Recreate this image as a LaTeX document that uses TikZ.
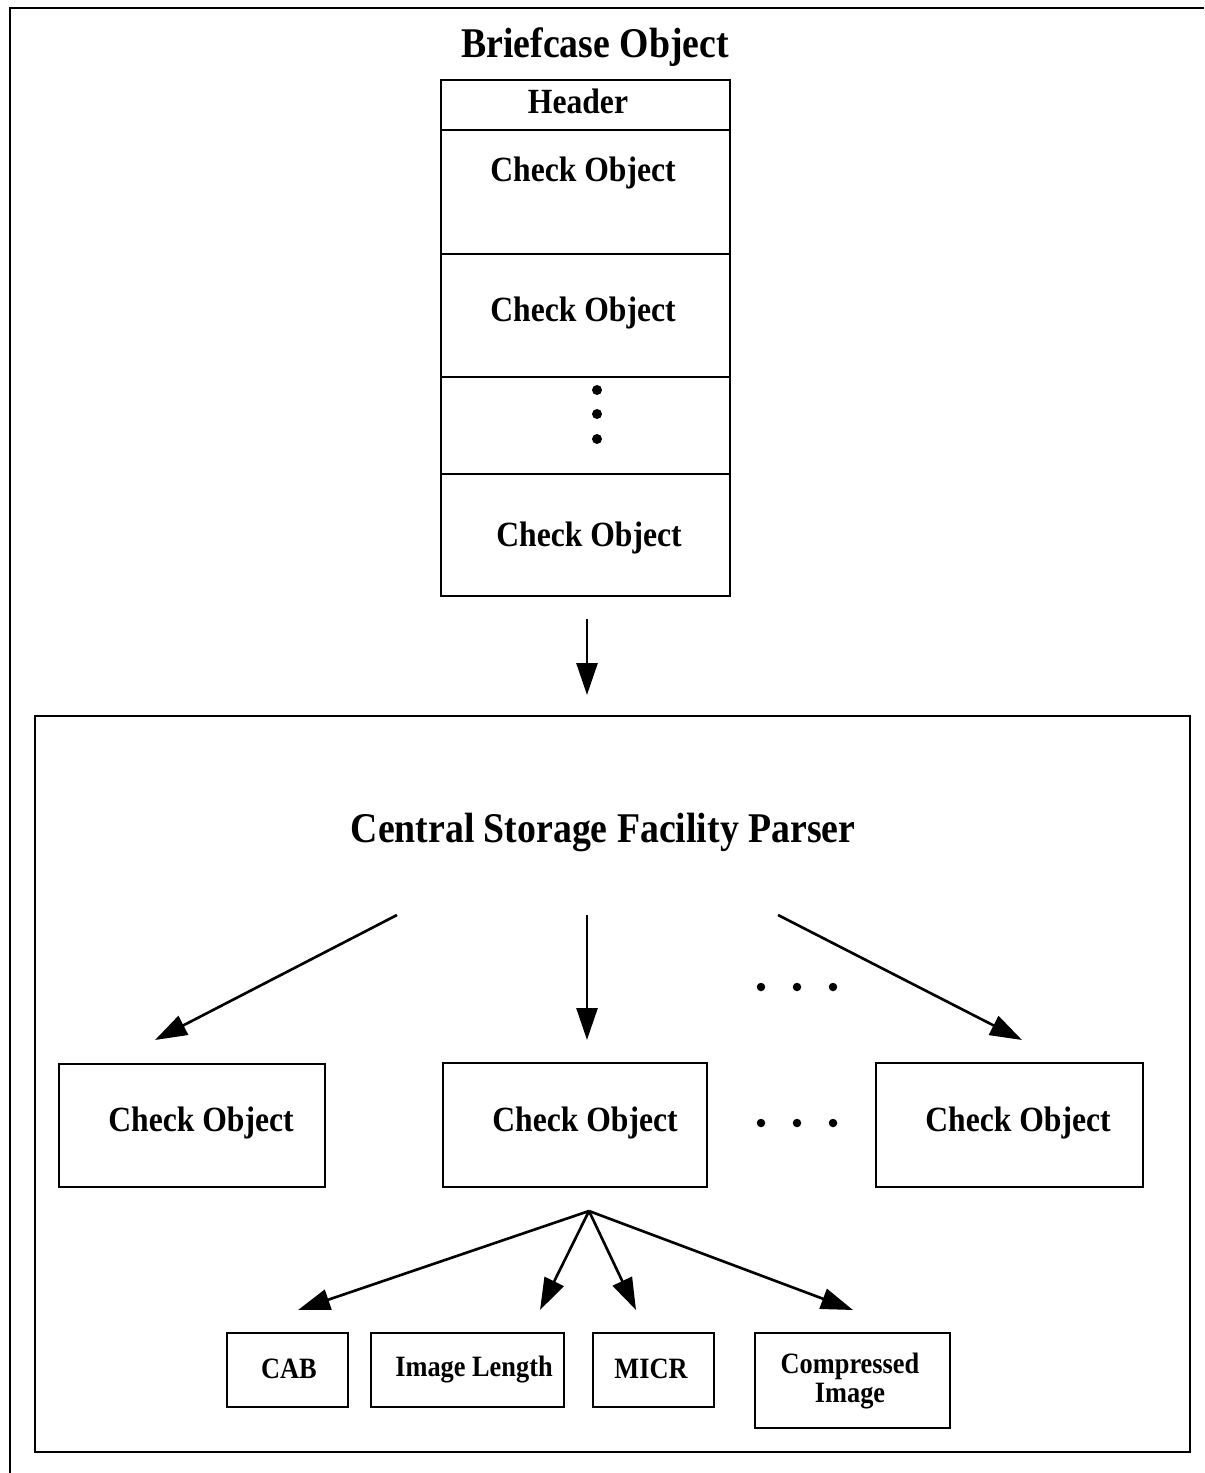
\documentclass[tikz,border=0pt]{standalone}
\usepackage{fontspec}
\usepackage{graphicx}
\setmainfont{Liberation Serif}
\usetikzlibrary{fit,arrows.meta}

% slightly taller lettering
\newcommand{\tallword}[1]{\scalebox{1}[1.12]{#1}}

\tikzset{
  frameline/.style={line width=1.3pt},
  cell/.style={draw, line width=1.25pt, inner sep=0pt, rectangle},
  bigtitle/.style={font=\bfseries\fontsize{21.5}{24}\selectfont, inner sep=0pt},
  midtext/.style={font=\bfseries\fontsize{18}{21}\selectfont, inner sep=0pt},
  smalltext/.style={font=\bfseries\fontsize{15}{16}\selectfont, inner sep=0pt, align=center},
  flow/.style={line width=1.5pt, -{Triangle[length=0.64cm,width=0.42cm]}},
  dotmark/.style={circle, fill=black, inner sep=0pt, minimum size=0.17cm}
}

\begin{document}
\begin{tikzpicture}[x=0.02cm, y=-0.02cm]
  \useasboundingbox (0,0) rectangle (1204,1473);

  % outer frame (top and left edges)
  \coordinate (frameTL) at (10,8);
  \coordinate (frameTR) at (1204,8);
  \coordinate (frameBL) at (10,1473);
  \draw[frameline] (frameTR) -- (frameTL) -- (frameBL);

  % briefcase object: a stack of cells
  \node[bigtitle] (briefTitle) at (595,47) {\tallword{Briefcase Object}};
  \node[cell, fit={(441,80) (730,130)}] (hdrCell) {};
  \node[cell, fit={(441,130) (730,254)}] (chkCellA) {};
  \node[cell, fit={(441,254) (730,377)}] (chkCellB) {};
  \node[cell, fit={(441,377) (730,474)}] (dotCell) {};
  \node[cell, fit={(441,474) (730,596)}] (chkCellC) {};
  \node[midtext] (hdrText) at (578,101) {\tallword{Header}};
  \node[midtext] (chkTextA) at (583,173) {\tallword{Check Object}};
  \node[midtext] (chkTextB) at (583,313) {\tallword{Check Object}};
  \node[midtext] (chkTextC) at (589,538) {\tallword{Check Object}};
  \node[dotmark, minimum size=0.2cm] (vdotA) at (597,390) {};
  \node[dotmark, minimum size=0.2cm] (vdotB) at (597,414) {};
  \node[dotmark, minimum size=0.2cm] (vdotC) at (597,439) {};

  % hand-over arrow into the parser
  \coordinate (feedTop) at (587,619);
  \coordinate (feedTip) at (587,695);
  \draw[flow] (feedTop) -- (feedTip);

  % parser frame
  \node[cell, fit={(35,716) (1190,1452)}] (parserBox) {};
  \node[bigtitle] (parserTitle) at (603,832) {\tallword{Central Storage Facility Parser}};

  % parser fan-out
  \coordinate (fanL0) at (397,915);
  \coordinate (fanL1) at (155,1040);
  \coordinate (fanM0) at (587,915);
  \coordinate (fanM1) at (587,1040);
  \coordinate (fanR0) at (778,915);
  \coordinate (fanR1) at (1022,1040);
  \draw[flow] (fanL0) -- (fanL1);
  \draw[flow] (fanM0) -- (fanM1);
  \draw[flow] (fanR0) -- (fanR1);

  \node[dotmark] (hdotA1) at (761,987) {};
  \node[dotmark] (hdotA2) at (797,987) {};
  \node[dotmark] (hdotA3) at (833,987) {};

  % parsed check objects
  \node[cell, fit={(59,1064) (325,1187)}] (objLeft) {};
  \node[cell, fit={(443,1063) (707,1187)}] (objMid) {};
  \node[cell, fit={(876,1063) (1143,1187)}] (objRight) {};
  \node[midtext] (objLeftText) at (201,1123) {\tallword{Check Object}};
  \node[midtext] (objMidText) at (585,1123) {\tallword{Check Object}};
  \node[midtext] (objRightText) at (1018,1123) {\tallword{Check Object}};

  \node[dotmark] (hdotB1) at (761,1123) {};
  \node[dotmark] (hdotB2) at (797,1123) {};
  \node[dotmark] (hdotB3) at (833,1123) {};

  % fields of one check object
  \coordinate (fieldApex) at (589,1211);
  \coordinate (tipCab) at (298,1310);
  \coordinate (tipLen) at (540,1310);
  \coordinate (tipMicr) at (636,1310);
  \coordinate (tipImg) at (853,1310);
  \draw[flow] (fieldApex) -- (tipCab);
  \draw[flow] (fieldApex) -- (tipLen);
  \draw[flow] (fieldApex) -- (tipMicr);
  \draw[flow] (fieldApex) -- (tipImg);

  \node[cell, fit={(227,1333) (348,1407)}] (cabBox) {};
  \node[cell, fit={(371,1333) (564,1407)}] (lenBox) {};
  \node[cell, fit={(593,1333) (714,1407)}] (micrBox) {};
  \node[cell, fit={(755,1333) (950,1428)}] (imgBox) {};
  \node[smalltext] (cabText) at (289,1369) {\tallword{CAB}};
  \node[smalltext] (lenText) at (474,1369) {\tallword{Image Length}};
  \node[smalltext] (micrText) at (651,1369) {\tallword{MICR}};
  \node[smalltext, font=\bfseries\fontsize{15}{16.5}\selectfont] (imgText) at (850,1381) {\tallword{Compressed}\\\tallword{Image}};
\end{tikzpicture}
\end{document}
